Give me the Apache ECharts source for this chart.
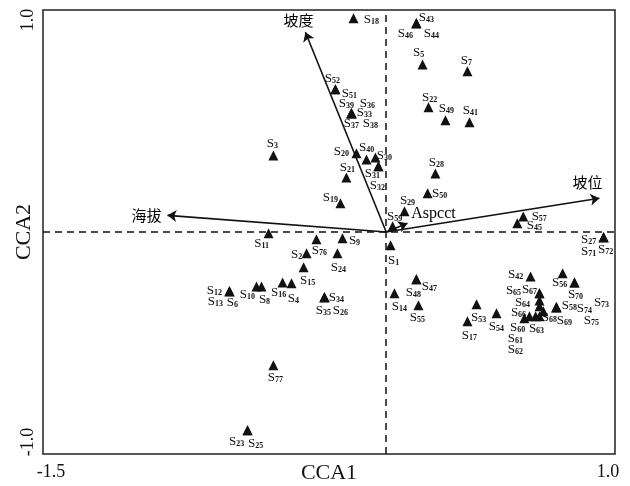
<!DOCTYPE html>
<html>
<head>
<meta charset="utf-8">
<script src="https://cdn.jsdelivr.net/npm/echarts@6/dist/echarts.min.js"></script>
<style>
html, body { margin: 0; padding: 0; background: #fff; }
#chart { width: 630px; height: 486px; }
</style>
</head>
<body>
<div id="chart"></div>
<script>
// site scores (CCA1, CCA2)
var sites = [18, 43, 46, 44, 5, 7, 22, 49, 41, 52, 51, 39, 36, 33, 37, 38, 20, 40, 30, 31, 32, 21, 19, 3, 28, 50, 29, 59,
    57, 45, 27, 71, 72, 11, 76, 9, 2, 24, 15, 1, 12, 13, 6, 10, 8, 16, 4, 34, 35, 26, 14, 48, 47, 55, 53, 17, 54,
    42, 56, 70, 65, 67, 64, 66, 60, 61, 62, 63, 68, 58, 69, 74, 73, 75, 77, 23, 25];
var siteX = [-0.143, 0.132, 0.132, 0.132, 0.159, 0.355, 0.185, 0.259, 0.364, -0.222, -0.222, -0.152, -0.152, -0.152, -0.152, -0.152,
    -0.130, -0.086, -0.047, -0.034, -0.034, -0.174, -0.200, -0.493, 0.215, 0.181, 0.080, 0.028,
    0.599, 0.573, 0.950, 0.950, 0.950, -0.514, -0.305, -0.191, -0.348, -0.213, -0.361, 0.019,
    -0.685, -0.685, -0.685, -0.567, -0.545, -0.453, -0.414, -0.270, -0.270, -0.270, 0.036, 0.132, 0.132, 0.141, 0.395, 0.355, 0.482,
    0.631, 0.771, 0.823, 0.670, 0.670, 0.670, 0.670, 0.653, 0.626, 0.604, 0.670, 0.687, 0.744, 0.744, 0.744, 0.823, 0.744,
    -0.493, -0.606, -0.606];
var siteY = [0.963, 0.940, 0.940, 0.940, 0.755, 0.724, 0.562, 0.503, 0.494, 0.643, 0.643, 0.535, 0.535, 0.535, 0.535, 0.535,
    0.355, 0.327, 0.336, 0.296, 0.296, 0.246, 0.129, 0.345, 0.264, 0.174, 0.093, 0.026,
    0.070, 0.039, -0.024, -0.024, -0.024, -0.006, -0.033, -0.028, -0.096, -0.096, -0.159, -0.060,
    -0.267, -0.267, -0.267, -0.245, -0.245, -0.227, -0.231, -0.294, -0.294, -0.294, -0.276, -0.213, -0.213, -0.330, -0.326, -0.402, -0.366,
    -0.200, -0.186, -0.227, -0.276, -0.276, -0.308, -0.335, -0.380, -0.380, -0.389, -0.380, -0.357, -0.339, -0.339, -0.339, -0.227, -0.339,
    -0.600, -0.893, -0.893];

// environmental vectors
var envNames = ['坡度', '海拔', '坡位', 'Aspcct'];
var envX = [-0.353, -0.956, 0.932, 0.093];
var envY = [0.900, 0.075, 0.152, 0.039];

var xTicks = [-1.5, 1.0];
var yTicks = [-1.0, 1.0];

// label placement, px from the triangle
var siteLabelOffset = {
    18: [18, 1], 43: [10, -6], 46: [-11, 10], 44: [15, 10], 5: [-4, -12], 7: [-1, -11], 22: [1, -10], 49: [1, -12], 41: [1, -12],
    52: [-3, -11], 51: [14, 4], 39: [-5, -10], 36: [16, -10], 33: [13, -1], 37: [0, 10], 38: [19, 10],
    20: [-15, -2], 40: [0, -12], 30: [9, -2], 31: [-6, 7], 32: [-1, 19], 21: [1, -10], 19: [-10, -6], 3: [-1, -12],
    28: [1, -11], 50: [12, 0], 29: [3, -11], 59: [2, -10], 57: [16, 0], 45: [17, 2], 27: [-15, 2], 71: [-15, 14], 72: [2, 12],
    11: [-7, 10], 76: [3, 11], 9: [12, 2], 2: [-10, 1], 24: [1, 14], 15: [4, 13], 1: [3, 15],
    12: [-15, -1], 13: [-14, 10], 6: [3, 11], 10: [-9, 8], 8: [3, 13], 16: [-4, 10], 4: [2, 15],
    34: [12, 0], 35: [-1, 13], 26: [16, 13], 14: [5, 13], 48: [-3, 13], 47: [13, 7], 55: [-1, 12], 53: [2, 13], 17: [2, 14], 54: [0, 13],
    42: [-15, -2], 56: [-3, 9], 70: [1, 12], 65: [-26, -3], 67: [-10, -4], 64: [-17, 2], 66: [-21, 6], 60: [-18, 11], 61: [-14, 22],
    62: [-9, 31], 63: [-3, 12], 68: [6, 6], 58: [13, -2], 69: [8, 13], 74: [28, 1], 73: [27, 20], 75: [35, 13],
    77: [2, 12], 23: [-11, 11], 25: [8, 13]
};
var envLabelOffset = [[-7, -12], [-21, 0], [-12, -16], [26, -10]];

var serif = '"Liberation Serif", "DejaVu Serif", serif';
var cjk = '"Noto Sans CJK SC", sans-serif';

var myChart = echarts.init(document.getElementById('chart'));

var siteData = [];
for (var i = 0; i < sites.length; i++) {
    siteData.push({
        name: String(sites[i]),
        value: [siteX[i], siteY[i]],
        label: { offset: siteLabelOffset[sites[i]] || [0, 10] }
    });
}

var envLines = [];
var envPoints = [];
for (var j = 0; j < envNames.length; j++) {
    envLines.push({ coords: [[0, 0], [envX[j], envY[j]]] });
    envPoints.push({
        name: envNames[j],
        value: [envX[j], envY[j]],
        label: {
            offset: envLabelOffset[j],
            fontFamily: j === 3 ? serif : cjk,
            fontSize: j === 3 ? 16 : 15
        }
    });
}

var near = function (v, list) {
    for (var k = 0; k < list.length; k++) {
        if (Math.abs(v - list[k]) < 1e-6) return k;
    }
    return -1;
};

var option = {
    animation: false,
    backgroundColor: '#fff',
    grid: {
        left: 43, right: 15, top: 10, bottom: 32,
        containLabel: false, outerBoundsMode: 'none',
        show: true, borderColor: '#222', borderWidth: 1.5, backgroundColor: 'transparent'
    },
    xAxis: {
        type: 'value', min: -1.5, max: 1.0, interval: 0.5,
        name: 'CCA1', nameLocation: 'middle', nameGap: 8, nameMoveOverlap: false,
        nameTextStyle: { fontFamily: serif, fontSize: 22, color: '#111' },
        axisLine: { show: false }, axisTick: { show: false }, splitLine: { show: false },
        axisLabel: {
            margin: 9, fontFamily: serif, fontSize: 18, color: '#111',
            formatter: function (v) {
                var k = near(v, xTicks);
                if (k === 0) return '{a|-1.5}';
                if (k === 1) return '{b|1.0}';
                return '';
            },
            rich: {
                a: { fontFamily: serif, fontSize: 18, color: '#111', padding: [0, 0, 0, 16] },
                b: { fontFamily: serif, fontSize: 18, color: '#111', padding: [0, 14, 0, 0] }
            }
        }
    },
    yAxis: {
        type: 'value', min: -1.0, max: 1.0, interval: 1,
        name: 'CCA2', nameLocation: 'middle', nameGap: 8, nameMoveOverlap: false,
        nameTextStyle: { fontFamily: serif, fontSize: 22, color: '#111' },
        axisLine: { show: false }, axisTick: { show: false }, splitLine: { show: false },
        axisLabel: {
            rotate: 90, margin: 6, fontFamily: serif, fontSize: 18, color: '#111',
            formatter: function (v) {
                var k = near(v, yTicks);
                if (k === 0) return '{a|-1.0}';
                if (k === 1) return '{b|1.0}';
                return '';
            },
            rich: {
                a: { fontFamily: serif, fontSize: 18, color: '#111', padding: [0, 0, 0, 24] },
                b: { fontFamily: serif, fontSize: 18, color: '#111', padding: [0, 20, 0, 0] }
            }
        }
    },
    series: [
        {
            type: 'scatter',
            symbol: 'triangle',
            symbolSize: 10,
            itemStyle: { color: '#111', opacity: 1 },
            data: siteData,
            label: {
                show: true,
                position: 'inside',
                textBorderWidth: 0,
                formatter: function (p) { return '{s|S}{n|' + p.name + '}'; },
                rich: {
                    s: { fontFamily: serif, fontSize: 13, color: '#111', verticalAlign: 'bottom' },
                    n: { fontFamily: serif, fontSize: 8, fontWeight: 'bold', color: '#111', verticalAlign: 'bottom' }
                }
            },
            markLine: {
                silent: true,
                symbol: 'none',
                label: { show: false },
                lineStyle: { color: '#111', width: 1.5, type: [7, 5] },
                data: [{ xAxis: 0 }, { yAxis: 0 }]
            },
            z: 3
        },
        {
            type: 'lines',
            coordinateSystem: 'cartesian2d',
            symbol: ['none', 'arrow'],
            symbolSize: 9,
            lineStyle: { color: '#111', width: 1.6, opacity: 1 },
            data: envLines,
            z: 4
        },
        {
            type: 'scatter',
            symbolSize: 0,
            itemStyle: { color: '#000', opacity: 1 },
            data: envPoints,
            label: {
                show: true,
                position: 'inside',
                color: '#000',
                textBorderWidth: 0,
                formatter: '{b}'
            },
            z: 5
        }
    ]
};

myChart.setOption(option);
window.onresize = myChart.resize;
</script>
</body>
</html>
